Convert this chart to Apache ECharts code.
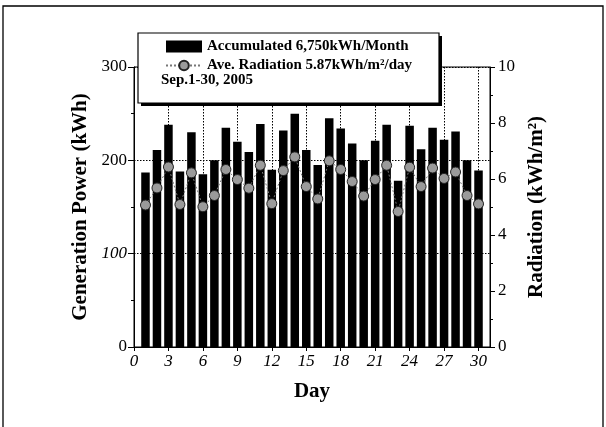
<!DOCTYPE html>
<html>
<head>
<meta charset="utf-8">
<script src="https://cdn.jsdelivr.net/npm/echarts@6/dist/echarts.min.js"></script>
<style>
html,body{margin:0;padding:0;background:#fff;}
#chart{width:606px;height:427px;}
</style>
</head>
<body>
<div id="chart"></div>
<script>
const days = [1,2,3,4,5,6,7,8,9,10,11,12,13,14,15,16,17,18,19,20,21,22,23,24,25,26,27,28,29,30];
const generation = [187,211,238,188,230,185,200,235,220,209,239,190,232,250,211,195,245,234,218,200,221,238,178,237,212,235,222,231,200,189];
const radiation = [5.07,5.68,6.43,5.09,6.22,5.01,5.41,6.34,5.98,5.67,6.49,5.12,6.30,6.79,5.73,5.29,6.65,6.34,5.91,5.39,5.98,6.49,4.84,6.42,5.73,6.39,6.02,6.25,5.41,5.11];
const leftTicks = [0,100,200,300];
const rightTicks = [0,2,4,6,8,10];
const barName = 'Accumulated 6,750kWh/Month';
const lineName = 'Ave. Radiation 5.87kWh/m²/day';
const periodText = 'Sep.1-30, 2005';

const serif = '"Liberation Serif","DejaVu Serif",serif';
const chart = echarts.init(document.getElementById('chart'), null, {renderer:'canvas'});

const option = {
  backgroundColor:'#fff',
  animation:false,
  grid:{left:134, right:116, top:67, bottom:80, show:true, borderColor:'#000', borderWidth:1, backgroundColor:'transparent'},
  xAxis:{
    type:'value', min:0, max:31, interval:3,
    name:'Day', nameLocation:'middle', nameGap:34,
    nameTextStyle:{fontFamily:serif, fontWeight:'bold', fontSize:21, color:'#000'},
    axisLine:{show:true, lineStyle:{color:'#000', width:1}},
    axisTick:{show:true, length:4, lineStyle:{color:'#000'}},
    axisLabel:{fontFamily:serif, fontStyle:'italic', fontSize:17, color:'#000', margin:6, showMaxLabel:false,
      formatter:v=> v>30 ? '' : String(v)},
    splitLine:{show:true, lineStyle:{color:'#000', type:[1.5,1.5], width:1}}
  },
  yAxis:[
    {
      type:'value', min:leftTicks[0], max:leftTicks[leftTicks.length-1], interval:100, position:'left',
      name:'Generation Power (kWh)', nameLocation:'middle', nameGap:42,
      nameTextStyle:{fontFamily:serif, fontWeight:'bold', fontSize:21, color:'#000'},
      axisLine:{show:true, lineStyle:{color:'#000', width:1}},
      axisTick:{show:true, length:6, lineStyle:{color:'#000'}},
      minorTick:{show:true, splitNumber:2, length:3, lineStyle:{color:'#000'}},
      axisLabel:{fontFamily:serif, fontSize:17, color:'#000', margin:7,
        formatter:v=> v===100 ? '{it|100}' : String(v),
        rich:{it:{fontFamily:serif, fontStyle:'italic', fontSize:17, color:'#000'}}},
      splitLine:{show:true, lineStyle:{color:'#000', type:[1.5,1.5], width:1}}
    },
    {
      type:'value', min:rightTicks[0], max:rightTicks[rightTicks.length-1], interval:2, position:'right',
      name:'Radiation (kWh/m²)', nameLocation:'middle', nameGap:28,
      nameTextStyle:{fontFamily:serif, fontWeight:'bold', fontSize:21, color:'#000'},
      axisLine:{show:true, lineStyle:{color:'#000', width:1}},
      axisTick:{show:true, length:5, lineStyle:{color:'#000'}},
      minorTick:{show:true, splitNumber:2, length:3, lineStyle:{color:'#000'}},
      axisLabel:{fontFamily:serif, fontSize:17, color:'#000', margin:8},
      splitLine:{show:false}
    }
  ],
  legend:{
    orient:'vertical', left:160, top:34, itemGap:4, itemWidth:36, itemHeight:12, z:6,
    textStyle:{fontFamily:serif, fontWeight:'bold', fontSize:15, color:'#000'},
    data:[{name:barName, icon:'rect'}, {name:lineName}]
  },
  graphic:[
    {type:'rect', z:100, silent:true, shape:{x:3, y:6, width:600, height:440}, style:{fill:'none', stroke:'#000', lineWidth:1.3}},
    {type:'rect', z:3, shape:{x:141, y:36, width:301, height:70}, style:{fill:'#000'}},
    {type:'rect', z:4, shape:{x:138, y:33, width:301, height:70}, style:{fill:'#fff', stroke:'#000', lineWidth:1.2}},
    {type:'text', z:6, left:161, top:73, style:{text:periodText, fontFamily:serif, fontWeight:'bold', fontSize:15, fill:'#000'}}
  ],
  series:[
    {
      name:barName, type:'bar', xAxisIndex:0, yAxisIndex:0, barWidth:8.5,
      itemStyle:{color:'#000'},
      data: days.map((d,i)=>[d, generation[i]])
    },
    {
      name:lineName, type:'line', xAxisIndex:0, yAxisIndex:1,
      symbol:'circle', symbolSize:10,
      itemStyle:{color:'#9a9a9a', borderColor:'#222', borderWidth:1},
      lineStyle:{color:'#777', width:1, type:[2,2]},
      data: days.map((d,i)=>[d, radiation[i]])
    }
  ]
};
chart.setOption(option);
</script>
</body>
</html>
